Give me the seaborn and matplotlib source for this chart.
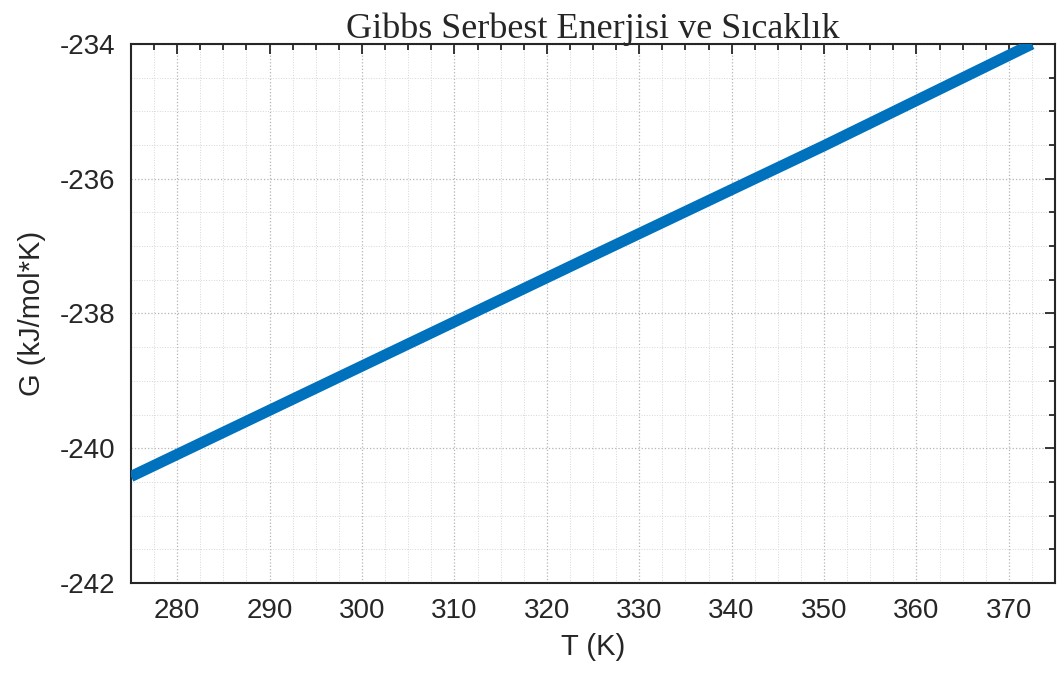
import pandas as pd
import matplotlib
matplotlib.use("Agg")
import matplotlib.pyplot as plt
from matplotlib.ticker import MultipleLocator
import seaborn as sns

# values
T_K = [275, 300, 325, 350, 372.5]
G_kJ = [-240.42, -238.78, -237.14, -235.51, -234.0]
x_ticks = [280, 290, 300, 310, 320, 330, 340, 350, 360, 370]
y_ticks = [-242, -240, -238, -236, -234]

df = pd.DataFrame({"T": T_K, "G": G_kJ})

sns.set_style("white")
plt.rcParams["font.family"] = ["Liberation Sans", "DejaVu Sans"]
plt.rcParams["axes.unicode_minus"] = False

fig = plt.figure(figsize=(10.58, 6.82), dpi=100)
ax = fig.add_axes([0.1238, 0.1452, 0.8734, 0.7903])

sns.lineplot(data=df, x="T", y="G", ax=ax, color="#0072BD", linewidth=8,
             solid_capstyle="butt", zorder=3)

ax.set_xlim(275, 375)
ax.set_ylim(-242, -234)
ax.set_xticks(x_ticks)
ax.set_yticks(y_ticks)
ax.xaxis.set_minor_locator(MultipleLocator(2.5))
ax.yaxis.set_minor_locator(MultipleLocator(0.5))

ax.grid(True, which="major", linestyle=":", color="#b4b4b4", linewidth=0.9)
ax.grid(True, which="minor", linestyle=":", color="#d6d6d6", linewidth=0.7)
ax.set_axisbelow(True)

ax.tick_params(which="both", direction="in", top=True, right=True,
               colors="#262626", labelsize=20, pad=11, width=1.3)
ax.tick_params(which="major", length=7)
ax.tick_params(which="minor", length=4)
for s in ax.spines.values():
    s.set_color("#262626")
    s.set_linewidth(1.5)

ax.set_xlabel("T (K)", fontsize=21, color="#262626", labelpad=6)
ax.set_ylabel("G (kJ/mol*K)", fontsize=21, color="#262626", labelpad=10)
ax.set_title("Gibbs Serbest Enerjisi ve Sıcaklık", fontsize=26,
             family=["Liberation Serif", "DejaVu Serif"], pad=4)

fig.savefig("out.png", dpi=100)
